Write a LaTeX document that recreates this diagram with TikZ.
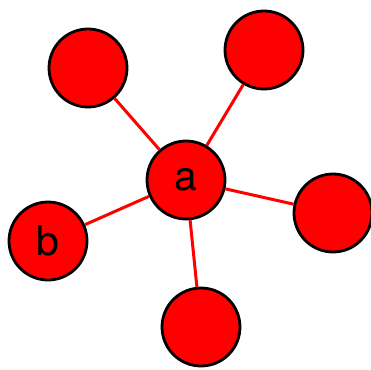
\documentclass[tikz,border=0pt]{standalone}
\usepackage{fontspec}
\setsansfont{TeX Gyre Heros}
\begin{document}
\begin{tikzpicture}[x=1pt,y=-1pt,
  vertex/.style={circle,draw=black,line width=2.8pt,fill=red,minimum size=78pt,inner sep=0pt,
    font=\sffamily\fontsize{41}{41}\selectfont},
  link/.style={red,line width=3pt}]
  \useasboundingbox (0,0) rectangle (371,369);
  \node[vertex] (a) at (186,180) {a};
  \node[vertex] (tl) at (88,68) {};
  \node[vertex] (tr) at (264,50) {};
  \node[vertex] (r) at (333,213) {};
  \node[vertex] (bot) at (201,327) {};
  \node[vertex] (b) at (48,241) {b};
  \foreach \n in {tl,tr,r,bot,b} \draw[link] (a)--(\n);
\end{tikzpicture}
\end{document}
